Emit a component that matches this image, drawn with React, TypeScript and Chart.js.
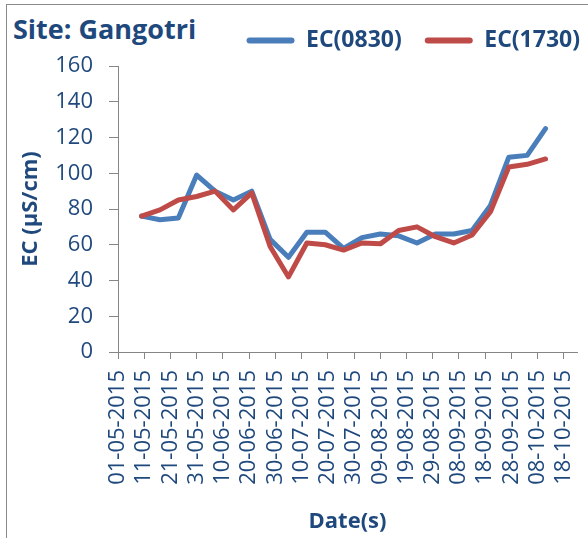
import React, { useEffect, useRef } from "react";
import { Chart, registerables } from "chart.js";

Chart.register(...registerables);

const START_DATE = "01-05-2015";
const sampleDates = [
  "10-05-2015", "17-05-2015", "24-05-2015", "31-05-2015", "07-06-2015", "14-06-2015",
  "21-06-2015", "28-06-2015", "05-07-2015", "12-07-2015", "19-07-2015", "26-07-2015",
  "02-08-2015", "09-08-2015", "16-08-2015", "23-08-2015", "30-08-2015", "06-09-2015",
  "13-09-2015", "20-09-2015", "27-09-2015", "04-10-2015", "11-10-2015",
];
const ec0830 = [76, 74, 75, 99, 90, 85, 90, 63, 53, 67, 67, 58, 64, 66, 65, 61, 66, 66, 68, 82, 109, 110, 125];
const ec1730 = [76, 79.5, 85, 87, 90, 79.5, 89, 59, 42, 61, 60, 57, 61, 60.5, 68, 70, 64.5, 61, 65.5, 78.5, 103.5, 105, 108];
const xTickLabels = [
  "01-05-2015", "11-05-2015", "21-05-2015", "31-05-2015", "10-06-2015", "20-06-2015",
  "30-06-2015", "10-07-2015", "20-07-2015", "30-07-2015", "09-08-2015", "19-08-2015",
  "29-08-2015", "08-09-2015", "18-09-2015", "28-09-2015", "08-10-2015", "18-10-2015",
];
const yTicks = [0, 20, 40, 60, 80, 100, 120, 140, 160];
const AXIS_DAYS = 175;

const TEXT = "#1F497D";
const AXIS = "#868686";
const FONT = "'Open Sans', 'DejaVu Sans', sans-serif";

function dayIndex(s: string): number {
  const [d, m, y] = s.split("-").map(Number);
  const [d0, m0, y0] = START_DATE.split("-").map(Number);
  return Math.round((Date.UTC(y, m - 1, d) - Date.UTC(y0, m0 - 1, d0)) / 86400000);
}

const legendPlacer = {
  id: "legendPlacer",
  afterLayout(chart: any) {
    const lg = chart.legend;
    if (!lg) return;
    const pad = lg.options.labels.padding;
    const dx = 580 + pad - lg.right;
    lg.left += dx;
    lg.right += dx;
    const dy = 6 - lg.top;
    lg.top += dy;
    lg.bottom += dy;
  },
};

export default function App() {
  const ref = useRef<HTMLCanvasElement | null>(null);

  useEffect(() => {
    if (!ref.current) return;
    const chart = new Chart(ref.current, {
      type: "line",
      data: {
        datasets: [
          {
            label: "EC(0830)",
            data: sampleDates.map((d, i) => ({ x: dayIndex(d), y: ec0830[i] })),
            borderColor: "#4A7EBB",
            backgroundColor: "#4A7EBB",
            borderWidth: 5,
            pointRadius: 0,
            tension: 0,
            borderJoinStyle: "round",
            borderCapStyle: "round",
            order: 1,
          },
          {
            label: "EC(1730)",
            data: sampleDates.map((d, i) => ({ x: dayIndex(d), y: ec1730[i] })),
            borderColor: "#BE4B48",
            backgroundColor: "#BE4B48",
            borderWidth: 5,
            pointRadius: 0,
            tension: 0,
            borderJoinStyle: "round",
            borderCapStyle: "round",
            order: 0,
          },
        ],
      },
      options: {
        animation: false,
        responsive: false,
        maintainAspectRatio: false,
        layout: { padding: { left: 0, right: 11, top: 10, bottom: 3 } },
        plugins: {
          tooltip: { enabled: false },
          title: { display: false },
          legend: {
            display: true,
            position: "top",
            align: "end",
            labels: {
              boxWidth: 48,
              boxHeight: 6,
              padding: 23,
              color: TEXT,
              font: { family: FONT, size: 23, weight: "bold" },
              sort: (a: any, b: any) => a.datasetIndex - b.datasetIndex,
              generateLabels: (c: any) =>
                (Chart.defaults.plugins.legend.labels as any)
                  .generateLabels(c)
                  .map((it: any) => ({ ...it, fillStyle: it.strokeStyle, lineWidth: 0, borderRadius: 3 })),
            },
          },
        },
        scales: {
          x: {
            type: "linear",
            min: 0,
            max: AXIS_DAYS,
            afterFit: (s: any) => {
              s.height = 183;
              s.paddingLeft = 0;
              s.paddingRight = 0;
            },
            ticks: {
              stepSize: 10,
              includeBounds: false,
              autoSkip: false,
              minRotation: 90,
              maxRotation: 90,
              padding: 11,
              color: TEXT,
              font: { family: FONT, size: 22 },
              callback: (_v: any, i: number) => xTickLabels[i],
            },
            grid: { drawOnChartArea: false, drawTicks: true, tickLength: 7, color: AXIS },
            border: { display: true, color: AXIS, width: 1 },
            title: {
              display: true,
              text: "Date(s)",
              color: TEXT,
              font: { family: FONT, size: 22, weight: "bold" },
              padding: { top: 0, bottom: 0 },
            },
          },
          y: {
            min: yTicks[0],
            max: yTicks[yTicks.length - 1],
            afterFit: (s: any) => {
              s.width = 118;
            },
            ticks: {
              stepSize: yTicks[1] - yTicks[0],
              padding: 16,
              color: TEXT,
              font: { family: FONT, size: 22 },
            },
            grid: { drawOnChartArea: false, drawTicks: true, tickLength: 9, color: AXIS },
            border: { display: true, color: AXIS, width: 1 },
            title: {
              display: true,
              text: "EC (μS/cm)",
              color: TEXT,
              font: { family: FONT, size: 22, weight: "bold" },
              padding: { top: 18, bottom: 0 },
            },
          },
        },
      },
      plugins: [legendPlacer],
    } as any);
    return () => chart.destroy();
  }, []);

  return (
    <div
      style={{
        position: "fixed",
        left: 0,
        top: 0,
        width: 588,
        height: 538,
        overflow: "hidden",
        background: "#ffffff",
      }}
    >
      <div
        style={{
          position: "absolute",
          left: 6,
          top: 4,
          width: 700,
          height: 700,
          border: "1px solid #8a8a8a",
        }}
      />
      <div
        style={{
          position: "absolute",
          left: 13,
          top: 11,
          lineHeight: "36px",
          fontFamily: FONT,
          fontWeight: 700,
          fontSize: 27,
          color: TEXT,
          whiteSpace: "nowrap",
        }}
      >
        Site: Gangotri
      </div>
      <canvas ref={ref} width={588} height={538} style={{ position: "absolute", left: 0, top: 0 }} />
    </div>
  );
}
